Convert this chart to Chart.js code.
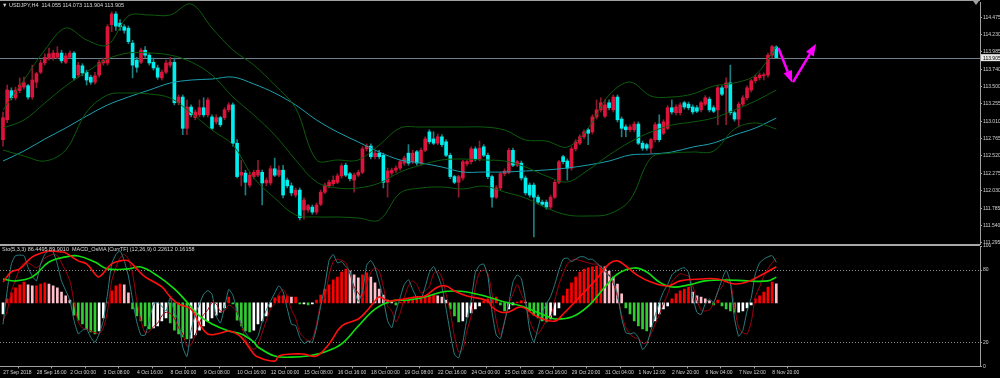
<!DOCTYPE html>
<html>
<head>
<meta charset="utf-8">
<script src="https://cdn.jsdelivr.net/npm/chart.js@4.4.1/dist/chart.umd.min.js"></script>
<style>
  html, body { margin: 0; padding: 0; background: #000; }
  #wrap { position: relative; width: 1000px; height: 378px; background: #000; overflow: hidden; }
  canvas { position: absolute; left: 0; }
  #mainChart { top: 0; }
  #subChart { top: 244px; }
  .cap { position: absolute; left: 2px; font-family: "Liberation Sans", Arial, sans-serif; font-size: 5.5px; line-height: 6px; color: #d8d8d8; white-space: pre; }
</style>
</head>
<body>
<div id="wrap">
  <canvas id="mainChart" width="1000" height="250"></canvas>
  <canvas id="subChart" width="1000" height="134"></canvas>
  <div class="cap" style="top:2px">▼ USDJPY,H4  114.055 114.073 113.904 113.905</div>
  <div class="cap" style="top:246px">Sto(5,3,3) 86.4495 89.9010  MACD_OsMA [CurrTF] (12,26,9) 0.22612 0.16158</div>
</div>
<script>
// ---- price data (H4 candles, bar 0 = 27 Sep 2018) ----
const openP = [
  112.75,113.03,113.44,113.34,113.44,113.49,113.51,113.35,113.56,113.70,
  113.83,113.90,113.90,113.91,113.97,113.84,113.91,113.97,113.66,113.79,
  113.70,113.63,113.56,113.66,113.83,113.83,114.37,114.52,114.39,114.34,
  114.32,114.11,113.87,113.84,114.01,113.94,113.84,113.76,113.62,113.70,
  113.80,113.84,113.27,113.35,112.91,113.21,113.06,113.10,113.20,113.10,
  113.07,113.00,113.06,113.06,113.17,113.24,112.70,112.25,112.28,112.11,
  112.23,112.25,112.29,112.14,112.14,112.34,112.25,112.32,112.18,112.10,
  111.97,112.04,111.76,111.76,111.80,111.73,111.84,112.01,112.10,112.13,
  112.15,112.24,112.39,112.27,112.18,112.25,112.29,112.62,112.66,112.51,
  112.56,112.53,112.15,112.28,112.32,112.35,112.42,112.56,112.44,112.58,
  112.42,112.60,112.86,112.76,112.70,112.79,112.72,112.53,112.23,112.15,
  112.21,112.41,112.44,112.62,112.48,112.65,112.53,112.23,111.94,112.07,
  112.27,112.29,112.60,112.39,112.42,112.21,112.11,112.11,111.94,111.87,
  111.87,111.80,111.94,112.15,112.51,112.45,112.35,112.62,112.70,112.79,
  112.89,112.86,113.07,113.17,113.08,113.27,113.17,113.35,113.04,112.93,
  112.89,112.89,112.97,112.70,112.68,112.63,112.75,112.97,112.84,112.91,
  113.20,113.13,113.13,113.27,113.25,113.21,113.20,113.17,113.25,113.32,
  113.20,113.17,113.48,113.48,113.55,113.13,113.04,113.25,113.34,113.45,
  113.58,113.62,113.65,113.66,113.94,114.055
];
const highP = [
  113.14,113.52,113.48,113.49,113.62,113.63,113.53,113.80,113.70,113.87,
  113.96,114.04,114.01,114.06,114.01,113.97,114.00,113.99,113.84,113.82,
  113.73,113.66,113.70,113.87,113.90,114.37,114.55,114.55,114.44,114.37,
  114.35,114.15,113.91,114.04,114.06,113.97,113.90,113.80,113.73,113.87,
  113.91,113.90,113.38,113.38,113.31,113.24,113.17,113.31,113.34,113.34,
  113.10,113.10,113.08,113.20,113.27,113.27,112.75,112.46,112.32,112.29,
  112.32,112.46,112.32,112.21,112.38,112.49,112.38,112.39,112.21,112.14,
  112.07,112.07,111.93,111.84,111.83,111.86,112.04,112.14,112.18,112.24,
  112.27,112.41,112.42,112.29,112.28,112.32,112.65,112.69,112.69,112.59,
  112.60,112.56,112.35,112.35,112.38,112.46,112.52,112.68,112.60,112.60,
  112.63,112.79,112.89,112.86,112.83,112.82,112.75,112.56,112.25,112.25,
  112.46,112.46,112.65,112.65,112.73,112.68,112.56,112.25,112.10,112.29,
  112.34,112.63,112.63,112.46,112.45,112.24,112.14,112.14,111.97,111.90,
  111.90,111.97,112.18,112.46,112.53,112.48,112.65,112.75,112.82,112.89,
  112.91,113.10,113.31,113.34,113.31,113.31,113.38,113.38,113.07,112.96,
  112.96,113.00,113.00,112.73,112.70,112.77,112.99,113.10,113.03,113.23,
  113.31,113.24,113.27,113.29,113.28,113.24,113.23,113.29,113.37,113.35,
  113.23,113.51,113.51,113.62,113.80,113.15,113.28,113.37,113.51,113.60,
  113.66,113.69,113.69,113.97,114.08,114.073
];
const lowP = [
  112.66,112.99,113.31,113.31,113.41,113.46,113.32,113.32,113.48,113.68,
  113.80,113.87,113.87,113.89,113.83,113.82,113.90,113.59,113.63,113.65,
  113.52,113.53,113.53,113.63,113.80,113.80,114.27,114.29,114.29,114.25,
  114.10,113.62,113.70,113.82,113.91,113.80,113.73,113.60,113.59,113.68,
  113.77,113.24,113.24,112.82,112.82,113.07,113.03,113.07,113.07,113.07,
  112.89,112.97,112.93,113.03,113.14,112.66,112.21,112.10,111.97,112.08,
  112.20,112.23,111.83,112.10,112.11,112.23,112.23,111.93,112.07,111.96,
  111.94,111.62,111.63,111.73,111.70,111.70,111.82,111.99,112.07,112.10,
  112.13,112.21,112.23,112.17,112.01,112.23,112.27,112.59,112.48,112.48,
  112.48,112.07,111.94,112.25,112.29,112.32,112.39,112.39,112.41,112.39,
  112.39,112.58,112.69,112.68,112.68,112.65,112.51,112.20,112.13,111.94,
  112.18,112.38,112.41,112.45,112.45,112.51,112.20,111.80,111.92,112.04,
  112.24,112.27,112.37,112.37,112.18,111.97,111.94,111.38,111.84,111.82,
  111.77,111.77,111.92,112.13,112.41,112.18,112.32,112.59,112.68,112.76,
  112.68,112.83,113.04,113.14,113.06,113.17,113.14,113.00,112.79,112.79,
  112.86,112.86,112.68,112.60,112.60,112.56,112.72,112.72,112.82,112.89,
  113.11,113.10,113.10,113.18,113.17,113.11,113.13,113.14,113.23,113.14,
  113.13,112.96,113.37,112.96,113.10,113.01,112.93,113.23,113.31,113.42,
  113.55,113.59,113.59,113.63,113.90,113.904
];
const closeP = [
  113.06,113.45,113.34,113.45,113.52,113.55,113.35,113.59,113.68,113.83,
  113.91,113.96,113.97,113.97,113.86,113.93,113.97,113.62,113.80,113.69,
  113.59,113.56,113.65,113.84,113.87,114.34,114.52,114.35,114.34,114.29,
  114.13,113.80,113.77,114.01,113.94,113.83,113.76,113.63,113.70,113.83,
  113.84,113.27,113.35,112.91,113.21,113.10,113.14,113.20,113.10,113.31,
  112.91,113.06,112.96,113.17,113.24,112.70,112.23,112.29,112.15,112.25,
  112.29,112.32,112.14,112.18,112.34,112.25,112.32,111.97,112.10,112.00,
  112.04,111.65,111.90,111.82,111.73,111.83,112.01,112.11,112.15,112.18,
  112.24,112.38,112.25,112.20,112.25,112.29,112.62,112.66,112.51,112.56,
  112.51,112.15,112.31,112.32,112.35,112.44,112.49,112.42,112.56,112.42,
  112.60,112.76,112.72,112.70,112.79,112.68,112.53,112.23,112.15,112.23,
  112.44,112.44,112.62,112.48,112.63,112.53,112.23,111.94,112.07,112.27,
  112.31,112.60,112.39,112.44,112.21,112.00,111.97,111.94,111.87,111.84,
  111.80,111.94,112.15,112.44,112.44,112.35,112.62,112.72,112.79,112.86,
  112.84,113.07,113.17,113.27,113.24,113.20,113.35,113.03,112.91,112.89,
  112.93,112.97,112.70,112.63,112.63,112.75,112.96,112.75,113.00,113.20,
  113.14,113.21,113.24,113.21,113.20,113.14,113.15,113.27,113.34,113.17,
  113.15,113.48,113.39,113.55,113.13,113.04,113.25,113.34,113.48,113.58,
  113.63,113.66,113.66,113.94,114.06,113.905
];

// Bollinger bands and the slow moving average, read every 5 bars
const bandBars = [0,5,10,15,20,25,30,35,40,45,50,55,60,65,70,75,80,85,90,95,100,105,110,115,120,125,130,135,140,145,150,155,160,165,170,175,180,185];
const bbUpper = [113.168,113.590,114.013,114.323,114.154,114.083,114.492,114.506,114.506,114.661,114.323,114.013,113.801,113.520,113.196,112.464,112.464,112.464,112.675,112.914,112.928,112.928,112.928,112.928,112.886,112.745,112.731,112.646,112.914,113.379,113.562,113.365,113.351,113.393,113.506,113.548,113.661,114.055];
const bbMid = [112.914,113.027,113.266,113.506,113.703,113.886,113.971,113.971,113.942,113.844,113.661,113.351,113.097,112.816,112.464,112.154,112.069,112.069,112.139,112.294,112.393,112.464,112.478,112.464,112.449,112.365,112.238,112.154,112.323,112.534,112.717,112.858,112.956,112.999,113.055,113.168,113.294,113.449];
const bbLower = [112.604,112.520,112.449,112.604,113.140,113.379,113.407,113.393,113.337,113.125,112.886,112.675,112.210,111.928,111.689,111.661,111.661,111.647,111.618,111.999,112.069,112.083,112.055,112.097,112.013,111.928,111.787,111.689,111.675,111.703,111.900,112.492,112.562,112.576,112.590,112.900,112.985,112.900];
const maLine = [112.449,112.590,112.759,112.914,113.083,113.238,113.351,113.449,113.548,113.590,113.604,113.632,113.534,113.407,113.238,113.027,112.858,112.717,112.576,112.464,112.421,112.365,112.294,112.294,112.294,112.309,112.323,112.351,112.393,112.449,112.534,112.548,112.576,112.646,112.703,112.816,112.914,113.055];

// price axis
const priceTicks = [114.475,114.230,113.985,113.740,113.500,113.255,113.010,112.765,112.520,112.275,112.030,111.785,111.540,111.295];
const priceLabels = ['114.475','114.230','113.985','113.740','113.500','113.255','113.010','112.765','112.520','112.275','112.030','111.785','111.540','111.295'];

// time axis
const labelBars = [0,8,16,24,32,40,48,56,64,72,80,88,96,104,112,120,128,136,144,152,160,168,176,184];
const timeLabels = ['27 Sep 2018','28 Sep 16:00','2 Oct 00:00','3 Oct 08:00','4 Oct 16:00','8 Oct 00:00','9 Oct 08:00','10 Oct 16:00','12 Oct 00:00','15 Oct 08:00','16 Oct 16:00','18 Oct 00:00','19 Oct 08:00','22 Oct 16:00','24 Oct 00:00','25 Oct 08:00','26 Oct 16:00','29 Oct 20:00','31 Oct 04:00','1 Nov 12:00','2 Nov 20:00','6 Nov 04:00','7 Nov 12:00','8 Nov 20:00'];

// hand drawn arrows (bar, price)
const arrowFrom = [[185.5, 114.04], [189.0, 113.56]];
const arrowTo = [[188.8, 113.55], [194.5, 114.10]];

// ---- sub window: stochastic (5,3,3) + MACD OsMA (12,26,9) ----
const stochMain = [
  35,63,85,92,null,92,82,75,71,85, 93,96,95,85,71,null,55,38,27,30,
  31,24,20,27,38,60,85,93,96,88, 75,55,37,26,26,38,52,53,50,46,
  57,45,38,16,8,30,43,52,60,63, 60,42,36,49,64,59,46,35,28,24,
  20,25,37,47,54,61,67,62,48,35, 34,24,19,21,20,32,50,67,88,93,
  86,87,83,79,64,54,62,84,88,82, 70,56,38,32,46,57,68,72,64,57,
  56,66,78,83,76,66,48,28,10,7, 20,40,55,78,84,85,75,45,26,23,
  37,52,70,76,73,55,30,20,32,45, 52,58,68,80,89,90,87,89,91,91,
  89,89,86,83,79,75,71,60,40,28, 27,28,24,14,18,30,42,53,62,68,
  76,79,81,82,78,58,45,43,52,56, 53,62,72,80,70,40,25,30,46,57,
  77,86,89,91,92,86.4495
];
const stochSignal = [
  38,46,62,null,81,86,86,null,82,85, 90,null,93,92,86,null,71,53,37,32,
  31,null,28,27,32,46,71,82,90,93, 89,77,55,38,28,29,33,36,42,45,
  44,40,32,27,17,18,26,36,43,47, 53,52,46,46,51,49,45,34,23,17,
  14,18,28,38,48,52,60,64,58,47, 40,28,24,21,23,35,52,57,76,87,
  89,88,86,77,66,61,57,68,78,82, 79,66,50,46,37,44,57,67,71,68,
  61,63,66,77,79,74,60,45,25,12, 14,30,42,66,78,80,77,60,38,26,
  38,52,60,68,60,52,38,30,27,32, 38,41,55,68,77,85,88,89,88,87,
  86,85,85,82,79,76,69,58,43,32, 27,24,23,19,20,27,35,43,52,60,
  70,74,77,76,75,67,55,47,46,47, 52,62,66,73,70,50,32,28,27,37,
  58,66,75,81,86,89.901
];
const stochLevels = [80, 20];
const stochTicks = [100, 80, 20, 0];

const osma = [
  -0.037,0.014,0.034,0.051,0.061,0.071,0.061,0.058,0.058,0.064,
  0.068,0.064,0.058,0.051,0.037,0.024,0.010,-0.041,-0.058,-0.071,
  -0.088,-0.098,-0.105,-0.095,-0.051,0.003,0.041,0.058,0.064,0.061,
  0.034,-0.020,-0.044,-0.061,-0.078,-0.088,-0.085,-0.078,-0.061,-0.051,
  -0.068,-0.092,-0.105,-0.115,-0.122,-0.119,-0.108,-0.092,-0.078,-0.061,
  -0.051,-0.041,-0.031,-0.017,0.020,-0.003,-0.058,-0.078,-0.095,-0.098,
  -0.092,-0.071,-0.061,-0.044,-0.014,0.017,0.024,0.024,0.024,0.020,
  0.020,-0.003,-0.003,-0.007,-0.003,0.010,0.027,0.047,0.061,0.078,
  0.088,0.105,0.115,0.108,0.095,0.085,0.095,0.102,0.088,0.068,
  0.047,0.027,0.010,0.003,-0.007,0.003,0.007,0.010,0.014,0.014,
  0.017,0.024,0.027,0.027,0.024,0.020,0.010,-0.020,-0.044,-0.064,
  -0.061,-0.047,-0.034,-0.020,-0.010,0.007,0.014,0.017,0.020,-0.007,
  -0.027,-0.020,-0.007,0.003,0.007,0.003,-0.027,-0.041,-0.051,-0.061,
  -0.064,-0.054,-0.041,-0.017,0.024,0.047,0.068,0.088,0.105,0.115,
  0.119,0.122,0.125,0.125,0.122,0.108,0.088,0.064,0.031,-0.017,
  -0.037,-0.061,-0.078,-0.088,-0.095,-0.081,-0.061,-0.037,-0.020,-0.010,
  0.014,0.031,0.041,0.047,0.054,0.037,0.024,0.020,0.014,0.007,
  -0.007,0.010,-0.010,-0.020,-0.027,-0.031,-0.031,-0.027,-0.017,-0.007,
  0.014,0.024,0.037,0.054,0.071,0.0645
];
const macdBars = [0,2,4,7,10,11,14,15,18,20,22,23,26,28,30,32,34,38,40,42,45,47,49,51,54,55,57,60,61,65,66,69,72,75,78,81,85,87,89,90,92,93,96,99,101,104,106,108,111,116,117,119,121,124,128,132,134,138,142,145,147,149,152,155,159,162,167,171,175,178,181,185];
const macdVals = [0.131,0.194,0.213,0.288,0.319,0.325,0.319,0.313,0.263,0.244,0.181,0.163,0.244,0.263,0.263,0.213,0.163,0.100,0.038,-0.006,-0.038,-0.131,-0.194,-0.194,-0.175,-0.181,-0.213,-0.319,-0.338,-0.363,-0.331,-0.319,-0.319,-0.331,-0.256,-0.144,-0.100,-0.050,0.013,0.038,0.013,0.013,0.025,0.038,0.044,0.100,0.106,0.075,0.044,0.013,-0.025,-0.056,-0.056,-0.025,-0.088,-0.113,-0.069,0.038,0.150,0.244,0.263,0.231,0.169,0.131,0.106,0.138,0.150,0.150,0.119,0.131,0.169,0.22612];
const sigBars = [0,3,7,11,15,18,22,25,30,33,37,41,44,47,50,54,57,60,61,65,69,73,77,81,85,89,93,97,101,105,108,111,116,120,124,127,130,132,136,140,144,147,151,154,157,160,164,168,173,178,183,185];
const sigVals = [0.150,0.138,0.163,0.256,0.288,0.294,0.256,0.213,0.213,0.225,0.169,0.088,0.006,-0.081,-0.131,-0.175,-0.194,-0.244,-0.275,-0.331,-0.338,-0.331,-0.306,-0.256,-0.144,-0.038,0.013,0.019,0.038,0.069,0.075,0.069,0.038,0.006,-0.019,-0.050,-0.081,-0.100,-0.088,-0.019,0.100,0.181,0.219,0.194,0.131,0.100,0.113,0.138,0.144,0.138,0.138,0.16158];

// ---- look ----
Chart.defaults.font.family = '"Liberation Sans", Arial, sans-serif';
Chart.defaults.font.size = 5;
const AXIS = '#a0a0a0';
const TXT = '#d4d4d4';
const X_MIN = -0.72, X_MAX = 233.73;   // leaves the empty chart shift on the right

const idx = closeP.map((_, i) => i);
const isBull = i => closeP[i] >= openP[i];
const pts = (xs, ys) => xs.map((x, k) => ({x: x, y: ys[k]}));
const perBar = arr => arr.map((v, i) => ({x: i, y: v})).filter(p => p.y !== null);

function noPad(s) { s.paddingTop = 0; s.paddingBottom = 0; s.paddingLeft = 0; s.paddingRight = 0; }

function lineDs(data, color, width, tension, order, yAxisID) {
  return { type: 'line', data: data, borderColor: color, borderWidth: width, pointRadius: 0,
           tension: tension, fill: false, order: order, yAxisID: yAxisID || 'y' };
}

function drawArrow(ctx, x1, y1, x2, y2) {
  const a = Math.atan2(y2 - y1, x2 - x1);
  const hl = 12, hw = 4.5;
  const bx = x2 - hl * Math.cos(a), by = y2 - hl * Math.sin(a);
  ctx.lineWidth = 2.5;
  ctx.beginPath(); ctx.moveTo(x1, y1); ctx.lineTo(bx, by); ctx.stroke();
  ctx.beginPath();
  ctx.moveTo(x2, y2);
  ctx.lineTo(bx + hw * Math.sin(a), by - hw * Math.cos(a));
  ctx.lineTo(bx - hw * Math.sin(a), by + hw * Math.cos(a));
  ctx.closePath(); ctx.fill();
}

const mainDecor = {
  id: 'mainDecor',
  beforeDatasetsDraw(chart) {
    const {ctx, chartArea: a, scales: {y}} = chart;
    const yb = Math.round(y.getPixelForValue(closeP[closeP.length - 1])) + 0.5;
    ctx.save();
    ctx.strokeStyle = '#6f7f8f';
    ctx.lineWidth = 1;
    ctx.beginPath(); ctx.moveTo(a.left, yb); ctx.lineTo(a.right, yb); ctx.stroke();
    ctx.restore();
  },
  afterDraw(chart) {
    const {ctx, chartArea: a, scales: {x, y}} = chart;
    ctx.save();
    ctx.fillStyle = AXIS;
    ctx.fillRect(0, 0, a.right, 1);
    ctx.beginPath(); ctx.moveTo(a.right - 7, 1); ctx.lineTo(a.right - 1, 1); ctx.lineTo(a.right - 4, 5); ctx.fill();
    ctx.strokeStyle = '#ff00ff';
    ctx.fillStyle = '#ff00ff';
    arrowFrom.forEach((f, k) => {
      const t = arrowTo[k];
      drawArrow(ctx, x.getPixelForValue(f[0]), y.getPixelForValue(f[1]),
                     x.getPixelForValue(t[0]), y.getPixelForValue(t[1]));
    });
    const last = closeP[closeP.length - 1];
    const yb = y.getPixelForValue(last);
    ctx.fillStyle = '#e6e6e6';
    ctx.fillRect(a.right + 1, yb - 3.5, 1000 - a.right, 7);
    ctx.fillStyle = '#000';
    ctx.font = '5px "Liberation Sans", Arial, sans-serif';
    ctx.textBaseline = 'middle';
    ctx.fillText(last.toFixed(3), a.right + 3, yb + 0.5);
    ctx.restore();
  }
};

const subDecor = {
  id: 'subDecor',
  beforeDatasetsDraw(chart) {
    const {ctx, chartArea: a, scales: {y}} = chart;
    ctx.save();
    ctx.strokeStyle = '#8c8c8c';
    ctx.lineWidth = 1;
    ctx.setLineDash([1, 2]);
    stochLevels.forEach(v => {
      const py = Math.round(y.getPixelForValue(v)) + 0.5;
      ctx.beginPath(); ctx.moveTo(a.left, py); ctx.lineTo(a.right, py); ctx.stroke();
    });
    ctx.restore();
  },
  afterDraw(chart) {
    const {ctx, chartArea: a} = chart;
    ctx.save();
    ctx.fillStyle = '#a8a8a8';
    ctx.fillRect(0, 0, a.right, 2);
    ctx.restore();
  }
};

const common = {
  responsive: false,
  animation: false,
  devicePixelRatio: 1,
  events: [],
  plugins: { legend: { display: false }, tooltip: { enabled: false } }
};

new Chart(document.getElementById('mainChart'), {
  type: 'bar',
  data: {
    datasets: [
      lineDs(pts(bandBars, bbUpper), '#0d5c0d', 1, 0.35, 0),
      lineDs(pts(bandBars, bbMid), '#0d5c0d', 1, 0.35, 0),
      lineDs(pts(bandBars, bbLower), '#0d5c0d', 1, 0.35, 0),
      lineDs(pts(bandBars, maLine), '#1c9fae', 1, 0.35, 0),
      { data: idx.map(i => ({x: i, y: [lowP[i], highP[i]]})),
        backgroundColor: c => isBull(c.dataIndex) ? '#8f1a30' : '#1f7f80',
        barThickness: 1, grouped: false, order: 2 },
      { data: idx.map(i => ({x: i, y: [openP[i], closeP[i]]})),
        backgroundColor: c => isBull(c.dataIndex) ? '#dc143c' : '#00eeee',
        barThickness: 3, minBarLength: 1, grouped: false, order: 1 }
    ]
  },
  options: Object.assign({}, common, {
    layout: { padding: { top: 2, bottom: 6, left: 0, right: 0 } },
    scales: {
      x: { type: 'linear', min: X_MIN, max: X_MAX, offset: false, display: false },
      y: {
        position: 'right', min: 111.2805, max: 114.689,
        afterFit: s => { s.width = 20; noPad(s); },
        afterBuildTicks: s => { s.ticks = priceTicks.map(v => ({value: v})); },
        ticks: { color: TXT, padding: 1, autoSkip: false, callback: (v, i) => priceLabels[i] },
        grid: { drawOnChartArea: false, drawTicks: true, tickLength: 2, color: AXIS },
        border: { display: true, color: AXIS }
      }
    }
  }),
  plugins: [mainDecor]
});

new Chart(document.getElementById('subChart'), {
  type: 'bar',
  data: {
    datasets: [
      lineDs(pts(macdBars, macdVals), '#ff1010', 1.6, 0.4, 0, 'yMacd'),
      lineDs(pts(sigBars, sigVals), '#10e010', 1.6, 0.4, 1, 'yMacd'),
      lineDs(perBar(stochMain), '#2b7f80', 1, 0.15, 2, 'y'),
      lineDs(perBar(stochSignal), '#a00010', 1, 0.25, 3, 'y'),
      { data: idx.map(i => ({x: i, y: osma[i]})), yAxisID: 'yOsma',
        backgroundColor: c => {
          const i = c.dataIndex, v = osma[i], p = i > 0 ? osma[i - 1] : v;
          if (v >= 0) return v >= p ? '#ff0000' : '#ffc0cb';
          return v < p ? '#32cd32' : '#ffffff';
        },
        barThickness: 2, grouped: false, order: 5 }
    ]
  },
  options: Object.assign({}, common, {
    layout: { padding: { top: 2, bottom: 0, left: 0, right: 0 } },
    scales: {
      x: {
        type: 'linear', min: X_MIN, max: X_MAX, offset: false, position: 'bottom',
        afterFit: s => { s.height = 11.6; noPad(s); },
        afterBuildTicks: s => { s.ticks = labelBars.map(b => ({value: b - 0.3})); },
        ticks: { color: TXT, autoSkip: false, maxRotation: 0, minRotation: 0, align: 'start',
                 labelOffset: 1.5, padding: 1, callback: (v, i) => timeLabels[i] },
        grid: { drawOnChartArea: false, drawTicks: true, tickLength: 2, color: AXIS },
        border: { display: true, color: AXIS }
      },
      y: {
        position: 'right', min: 0, max: 100,
        afterFit: s => { s.width = 20; noPad(s); },
        afterBuildTicks: s => { s.ticks = stochTicks.map(v => ({value: v})); },
        ticks: { color: TXT, padding: 1, autoSkip: false },
        grid: { drawOnChartArea: false, drawTicks: true, tickLength: 2, color: AXIS },
        border: { display: true, color: AXIS }
      },
      yMacd: { display: false, min: -0.396, max: 0.356 },
      yOsma: { display: false, min: -0.215, max: 0.193 }
    }
  }),
  plugins: [subDecor]
});
</script>
</body>
</html>
